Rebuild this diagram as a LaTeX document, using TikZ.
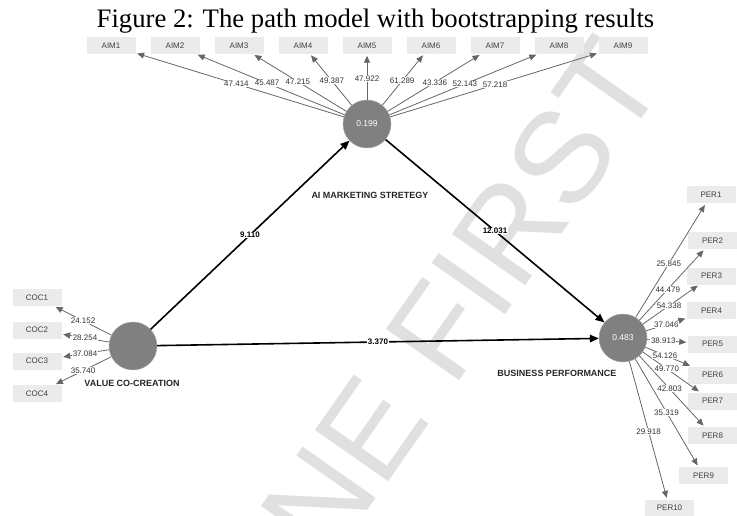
\documentclass[tikz,border=0pt]{standalone}
\usepackage{fontspec}
\setmainfont{Liberation Serif}
\setsansfont{Liberation Sans}
\usetikzlibrary{arrows.meta,calc}

\begin{document}
\begin{tikzpicture}[x=1pt,y=-1pt,
    lv/.style={circle,fill=gray,draw=black!35,minimum size=48pt,inner sep=0pt,
      text=white,font=\sffamily\fontsize{8.5}{10}\selectfont},
    ind/.style={fill=black!8,minimum width=49pt,minimum height=17pt,inner sep=0pt,
      text=black!75,font=\sffamily\fontsize{8}{9}\selectfont},
    lvname/.style={font=\sffamily\bfseries\fontsize{9}{10}\selectfont,text=black!85},
    load/.style={draw=black!60,line width=.8pt,-{Triangle[length=7pt,width=6pt]},shorten >=1.5pt},
    struct/.style={draw=black,line width=1.6pt,-{Triangle[length=9pt,width=7.5pt]}},
    val/.style={fill=white,inner sep=.6pt,text=black!80,font=\sffamily\fontsize{8}{9}\selectfont},
    coef/.style={fill=white,inner sep=.6pt,font=\sffamily\bfseries\fontsize{8}{9}\selectfont}]
    \useasboundingbox (0,0) rectangle (737,516);
    \begin{scope}
      \clip (0,0) rectangle (737,516);
      \node[rotate=55,text=black!12,font=\sffamily\fontsize{130}{130}\selectfont] (wm) at (375,423) {ONLINE FIRST};
    \end{scope}

    \node[anchor=base,font=\fontsize{26.7}{30}\selectfont] (title) at (375.5,28) {Figure 2: The path model with bootstrapping results};

    \begin{scope}
      % latent variables
      \node[lv] (ai) at (367,124) {0.199};
      \node[lv] (vcc) at (133,346) {};
      \node[lv] (bp) at (623,338) {0.483};

      \node[lvname] (ainame) at (370,195) {AI MARKETING STRETEGY};
      \node[lvname] (vccname) at (132,383) {VALUE CO-CREATION};
      \node[lvname] (bpname) at (557,373) {BUSINESS PERFORMANCE};

      % indicators
      \node[ind] (aim1) at (111,45.5) {AIM1};
      \node[ind] (aim2) at (175,45.5) {AIM2};
      \node[ind] (aim3) at (239,45.5) {AIM3};
      \node[ind] (aim4) at (303,45.5) {AIM4};
      \node[ind] (aim5) at (367,45.5) {AIM5};
      \node[ind] (aim6) at (431,45.5) {AIM6};
      \node[ind] (aim7) at (495,45.5) {AIM7};
      \node[ind] (aim8) at (559,45.5) {AIM8};
      \node[ind] (aim9) at (623,45.5) {AIM9};

      \node[ind] (coc1) at (37,297.5) {COC1};
      \node[ind] (coc2) at (37,330) {COC2};
      \node[ind] (coc3) at (37,361) {COC3};
      \node[ind] (coc4) at (37,393.5) {COC4};

      \node[ind] (per1) at (711,195) {PER1};
      \node[ind] (per2) at (712.5,240.5) {PER2};
      \node[ind] (per3) at (711.5,276) {PER3};
      \node[ind] (per4) at (711.5,310.5) {PER4};
      \node[ind] (per5) at (712.5,344) {PER5};
      \node[ind] (per6) at (712.5,375) {PER6};
      \node[ind] (per7) at (712.5,401) {PER7};
      \node[ind] (per8) at (712.5,435.5) {PER8};
      \node[ind] (per9) at (703.5,475.5) {PER9};
      \node[ind] (per10) at (669.5,508) {PER10};

      % outer model
      \path[load] (ai) -- (aim1);
      \path[load] (ai) -- (aim2);
      \path[load] (ai) -- (aim3);
      \path[load] (ai) -- (aim4);
      \path[load] (ai) -- (aim5);
      \path[load] (ai) -- (aim6);
      \path[load] (ai) -- (aim7);
      \path[load] (ai) -- (aim8);
      \path[load] (ai) -- (aim9);

      \path[load] (vcc) -- (coc1);
      \path[load] (vcc) -- (coc2);
      \path[load] (vcc) -- (coc3);
      \path[load] (vcc) -- (coc4);

      \path[load] (bp) -- (per1);
      \path[load] (bp) -- (per2);
      \path[load] (bp) -- (per3);
      \path[load] (bp) -- (per4);
      \path[load] (bp) -- (per5);
      \path[load] (bp) -- (per6);
      \path[load] (bp) -- (per7);
      \path[load] (bp) -- (per8);
      \path[load] (bp) -- (per9);
      \path[load] (bp) -- (per10);

      \node[val] (taim1) at ($(ai)!0.51!(aim1)$) {47.414};
      \node[val] (taim2) at ($(ai)!0.52!(aim2)$) {45.487};
      \node[val] (taim3) at ($(ai)!0.54!(aim3)$) {47.215};
      \node[val] (taim4) at ($(ai)!0.55!(aim4)$) {49.387};
      \node[val] (taim5) at ($(ai)!0.58!(aim5)$) {47.922};
      \node[val] (taim6) at ($(ai)!0.55!(aim6)$) {61.289};
      \node[val] (taim7) at ($(ai)!0.53!(aim7)$) {43.336};
      \node[val] (taim8) at ($(ai)!0.51!(aim8)$) {52.143};
      \node[val] (taim9) at ($(ai)!0.50!(aim9)$) {57.218};

      \node[val] (tcoc1) at ($(vcc)!0.52!(coc1)$) {24.152};
      \node[val] (tcoc2) at ($(vcc)!0.50!(coc2)$) {28.254};
      \node[val] (tcoc3) at ($(vcc)!0.50!(coc3)$) {37.084};
      \node[val] (tcoc4) at ($(vcc)!0.52!(coc4)$) {35.740};

      \node[val] (tper1) at ($(bp)!0.52!(per1)$) {25.845};
      \node[val] (tper2) at ($(bp)!0.50!(per2)$) {44.479};
      \node[val] (tper3) at ($(bp)!0.52!(per3)$) {54.338};
      \node[val] (tper4) at ($(bp)!0.49!(per4)$) {37.046};
      \node[val] (tper5) at ($(bp)!0.45!(per5)$) {38.913};
      \node[val] (tper6) at ($(bp)!0.47!(per6)$) {54.126};
      \node[val] (tper7) at ($(bp)!0.49!(per7)$) {49.770};
      \node[val] (tper8) at ($(bp)!0.52!(per8)$) {42.803};
      \node[val] (tper9) at ($(bp)!0.54!(per9)$) {35.319};
      \node[val] (tper10) at ($(bp)!0.55!(per10)$) {29.918};

      % inner model
      \path[struct] (vcc) -- (ai);
      \path[struct] (ai) -- (bp);
      \path[struct] (vcc) -- (bp);

      \node[coef] (c1) at ($(vcc)!0.5!(ai)$) {9.110};
      \node[coef] (c2) at ($(ai)!0.5!(bp)$) {12.031};
      \node[coef] (c3) at ($(vcc)!0.5!(bp)$) {3.370};
    \end{scope}
\end{tikzpicture}
\end{document}
